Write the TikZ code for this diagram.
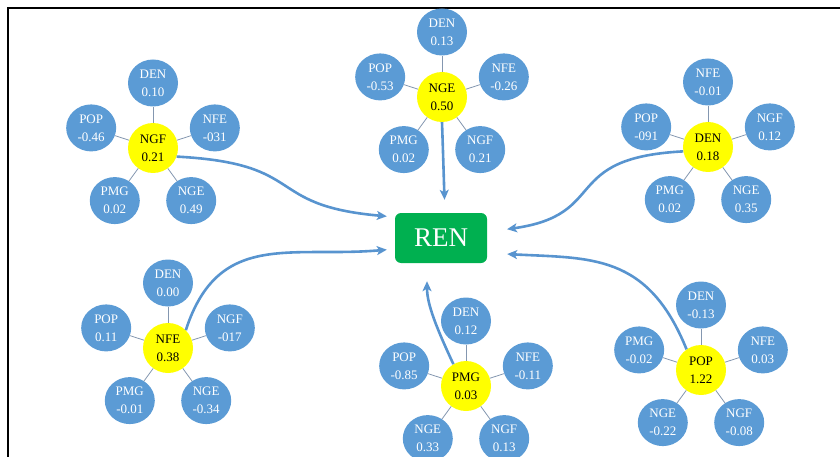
\documentclass[tikz,border=0pt]{standalone}
\usepackage{fontspec}
\setmainfont{Liberation Serif}
\usetikzlibrary{arrows.meta,shapes.geometric}

\definecolor{factorblue}{RGB}{91,155,213}
\definecolor{hubyellow}{RGB}{255,255,0}
\definecolor{rengreen}{RGB}{0,176,80}
\definecolor{spokegray}{RGB}{132,151,176}
\definecolor{flowblue}{RGB}{88,148,207}

\begin{document}
\begin{tikzpicture}
    [x=1pt, y=1pt,
    level distance=65pt,
    sibling distance=0pt,
    every node/.style={font=\fontsize{13}{18}\selectfont, align=center, inner sep=0pt},
    hub/.style={circle, fill=hubyellow, text=black, minimum size=50pt},
    factor/.style={ellipse, fill=factorblue, text=white, minimum width=50pt, minimum height=47pt},
    edge from parent/.style={draw=spokegray, line width=0.8pt},
    flow/.style={draw=flowblue, line width=2.6pt, -{Stealth[length=10pt,width=9pt,inset=2.5pt]}}
    ]
    \useasboundingbox (0,0) rectangle (840,-457);
    \draw [line width=1.6pt] (8,-457) -- (8,-8) -- (840,-8);

    \node (ren) [rectangle, rounded corners=6pt, fill=rengreen, text=white,
        minimum width=92pt, minimum height=50pt, font=\fontsize{27}{30}\selectfont]
        at (441,-238) {REN};

    % top row
    \node (ngf) [hub] at (153,-148) {NGF\\0.21}
        child [grow=90] {node (ngf-den) [factor] {DEN\\0.10}}
        child [grow=162] {node (ngf-pop) [factor] {POP\\-0.46}}
        child [grow=18] {node (ngf-nfe) [factor] {NFE\\-031}}
        child [grow=234] {node (ngf-pmg) [factor] {PMG\\0.02}}
        child [grow=306] {node (ngf-nge) [factor] {NGE\\0.49}}
    ;
    \node (nge) [hub] at (442,-97) {NGE\\0.50}
        child [grow=90] {node (nge-den) [factor] {DEN\\0.13}}
        child [grow=162] {node (nge-pop) [factor] {POP\\-0.53}}
        child [grow=18] {node (nge-nfe) [factor] {NFE\\-0.26}}
        child [grow=234] {node (nge-pmg) [factor] {PMG\\0.02}}
        child [grow=306] {node (nge-ngf) [factor] {NGF\\0.21}}
    ;
    \node (den) [hub] at (708,-147) {DEN\\0.18}
        child [grow=90] {node (den-nfe) [factor] {NFE\\-0.01}}
        child [grow=162] {node (den-pop) [factor] {POP\\-091}}
        child [grow=18] {node (den-ngf) [factor] {NGF\\0.12}}
        child [grow=234] {node (den-pmg) [factor] {PMG\\0.02}}
        child [grow=306] {node (den-nge) [factor] {NGE\\0.35}}
    ;

    % bottom row
    \node (nfe) [hub] at (168,-348) {NFE\\0.38}
        child [grow=90] {node (nfe-den) [factor] {DEN\\0.00}}
        child [grow=162] {node (nfe-pop) [factor] {POP\\0.11}}
        child [grow=18] {node (nfe-ngf) [factor] {NGF\\-017}}
        child [grow=234] {node (nfe-pmg) [factor] {PMG\\-0.01}}
        child [grow=306] {node (nfe-nge) [factor] {NGE\\-0.34}}
    ;
    \node (pmg) [hub] at (466,-386) {PMG\\0.03}
        child [grow=90] {node (pmg-den) [factor] {DEN\\0.12}}
        child [grow=162] {node (pmg-pop) [factor] {POP\\-0.85}}
        child [grow=18] {node (pmg-nfe) [factor] {NFE\\-0.11}}
        child [grow=234] {node (pmg-nge) [factor] {NGE\\0.33}}
        child [grow=306] {node (pmg-ngf) [factor] {NGF\\0.13}}
    ;
    \node (pop) [hub] at (701,-370) {POP\\1.22}
        child [grow=90] {node (pop-den) [factor] {DEN\\-0.13}}
        child [grow=162] {node (pop-pmg) [factor] {PMG\\-0.02}}
        child [grow=18] {node (pop-nfe) [factor] {NFE\\0.03}}
        child [grow=234] {node (pop-nge) [factor] {NGE\\-0.22}}
        child [grow=306] {node (pop-ngf) [factor] {NGF\\-0.08}}
    ;

    % arrows into REN
    \draw [flow, shorten >=8pt] (ngf.-20) to [out=-3, in=175, looseness=1.5] ([yshift=21pt]ren.west);
    \draw [flow, shorten >=8pt] (nfe.45) to [out=72, in=185, looseness=1.2] ([yshift=-11pt]ren.west);
    \draw [flow, shorten >=13pt] (nge.south) to [out=-88, in=92] ([xshift=4pt]ren.north);
    \draw [flow, shorten >=18pt] (pmg.120) to [out=115, in=-90] ([xshift=-14pt]ren.south);
    \draw [flow, shorten >=20pt] (den.190) to [out=183, in=8, looseness=1.5] ([yshift=6pt]ren.east);
    \draw [flow, shorten >=20pt] (pop.125) to [out=112, in=-3, looseness=1.2] ([yshift=-15pt]ren.east);
\end{tikzpicture}
\end{document}
